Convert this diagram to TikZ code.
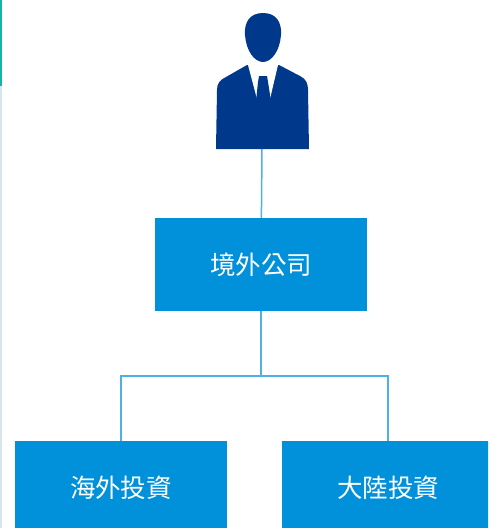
\documentclass[tikz,border=0pt]{standalone}
\usepackage{fontspec}
\newfontfamily\cjk{Noto Sans CJK TC}
\definecolor{boxBlue}{RGB}{0,145,218}
\definecolor{lineBlue}{RGB}{77,176,230}
\definecolor{navy}{RGB}{0,56,140}
\definecolor{edgeTeal}{RGB}{20,180,170}
\definecolor{edgeGray}{RGB}{215,230,233}

\begin{document}
\begin{tikzpicture}[x=1pt,y=-1pt]

\def\boxw{212pt}
\def\boxh{93pt}

\tikzstyle{company}=[rectangle,fill=boxBlue,text=white,minimum width=\boxw,minimum height=\boxh,inner sep=0pt,font=\cjk\fontsize{25.5}{30}\selectfont]
\tikzstyle{link}=[draw=lineBlue,line width=1.5pt]

\useasboundingbox (0,0) rectangle (488,528);
\clip (0,0) rectangle (488,528);

%page edge
\fill[edgeTeal] (0,0) rectangle (1.5,86);
\fill[edgeGray] (0,86) rectangle (1.5,528);

%person icon
\fill[navy] (263,13) .. controls (276,13) and (282,22) .. (281,35) .. controls (280,50) and (272,62) .. (263,62) .. controls (254,62) and (246,50) .. (245,35) .. controls (244,22) and (250,13) .. (263,13);
\fill[navy] (216,149) -- (217,90) .. controls (217,83) and (220,80) .. (226,77) -- (247,65) -- (279,65) -- (300,76) .. controls (306,79) and (308,83) .. (308,90) -- (309,149) -- cycle;
\fill[white] (248,65) -- (278,65) -- (270,99) -- (257,99) -- cycle;
\fill[navy] (259,76) -- (267,76) -- (268,82) -- (271,101) -- (256,101) -- (258,82) -- cycle;
\coordinate (person) at (262,149);

\node[company] (hq) at (261,264.5) {境外公司};
\node[company] (overseas) at (121,487.5) {海外投資};
\node[company] (mainland) at (388,487.5) {大陸投資};

\coordinate (split) at (261,376);

\draw[link] (person) -- (hq);
\draw[link] (hq) -- (split);
\draw[link] (split) -| (overseas);
\draw[link] (split) -| (mainland);

\end{tikzpicture}
\end{document}
